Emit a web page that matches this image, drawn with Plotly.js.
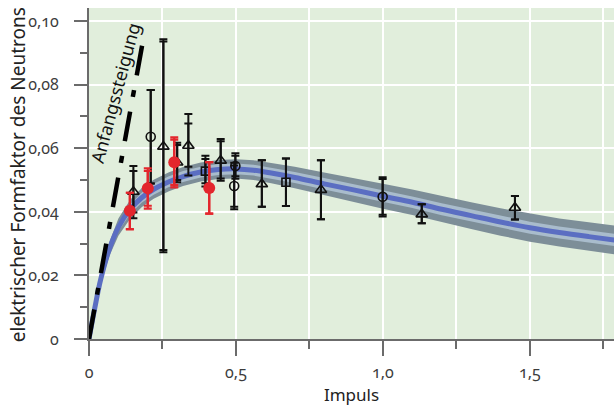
<!DOCTYPE html>
<html>
<head>
<meta charset="utf-8">
<script src="https://cdn.plot.ly/plotly-3.0.1.min.js"></script>
<style>
html,body{margin:0;padding:0;background:#fff;}
#chart{width:614px;height:406px;}
.xtick text,.ytick text{font-feature-settings:"onum" 1;}
</style>
</head>
<body>
<div id="chart"></div>
<script>
// Theory curve (centre) and its uncertainty band half-widths
const curveX = [0, 0.02, 0.04, 0.07, 0.1, 0.14, 0.18, 0.22, 0.27, 0.32, 0.38, 0.44, 0.5, 0.56, 0.62, 0.7, 0.8, 0.9, 1.0, 1.1, 1.2, 1.3, 1.4, 1.5, 1.6, 1.7, 1.8];
const curveY = [0, 0.0099, 0.0188, 0.0285, 0.0352, 0.0408, 0.0445, 0.0471, 0.0494, 0.0511, 0.0525, 0.0533, 0.0535, 0.0531, 0.0522, 0.0508, 0.0488, 0.0469, 0.0449, 0.0430, 0.0408, 0.0388, 0.0368, 0.0350, 0.0335, 0.0322, 0.0310];
const bandOuter = [0, 0.0008, 0.0015, 0.0022, 0.0027, 0.0030, 0.0030, 0.0030, 0.0030, 0.0030, 0.0030, 0.0030, 0.0030, 0.0031, 0.0032, 0.0034, 0.0036, 0.0038, 0.0039, 0.0040, 0.0041, 0.0042, 0.0043, 0.0044, 0.0044, 0.0045, 0.0045];
const bandInner = [0, 0.0004, 0.0008, 0.0011, 0.0013, 0.0015, 0.0016, 0.0017, 0.0017, 0.0017, 0.0017, 0.0017, 0.0017, 0.0017, 0.0017, 0.0017, 0.0018, 0.0018, 0.0018, 0.0018, 0.0019, 0.0019, 0.0019, 0.0019, 0.0019, 0.0019, 0.0019];

// Initial slope ("Anfangssteigung")
const slopeX = [0, 0.184];
const slopeY = [0, 0.094];

// Open triangles
const triX = [0.151, 0.253, 0.300, 0.338, 0.448, 0.588, 0.789, 1.132, 1.449];
const triY = [0.0463, 0.0605, 0.0555, 0.0608, 0.0561, 0.0487, 0.0469, 0.0392, 0.0413];
const triOutP = [0.0081, 0.0338, 0.0062, 0.0100, 0.0068, 0.0075, 0.0093, 0.0032, 0.0037];
const triOutM = [0.0083, 0.0332, 0.0062, 0.0094, 0.0063, 0.0071, 0.0092, 0.0028, 0.0037];
const triInP  = [0.0065, 0.0331, 0.0055, 0.0070, 0.0061, 0.0075, 0.0093, 0.0032, 0.0037];
const triInM  = [0.0065, 0.0325, 0.0055, 0.0066, 0.0056, 0.0071, 0.0092, 0.0028, 0.0037];

// Open circles
const cirX = [0.210, 0.498, 0.494, 0.999];
const cirY = [0.0636, 0.0544, 0.0481, 0.0447];
const cirOut = [0.0147, 0.0040, 0.0073, 0.0062];
const cirIn  = [0.0147, 0.0032, 0.0065, 0.0056];

// Open squares
const sqX = [0.396, 0.670];
const sqY = [0.0528, 0.0493];
const sqOut = [0.0048, 0.0075];
const sqIn  = [0.0038, 0.0075];

// Red filled circles
const redX = [0.139, 0.200, 0.290, 0.409];
const redY = [0.0403, 0.0474, 0.0556, 0.0475];
const redOutP = [0.0057, 0.0063, 0.0078, 0.0081];
const redOutM = [0.0058, 0.0064, 0.0079, 0.0081];
const redIn   = [0.0057, 0.0055, 0.0071, 0.0081];

// Tick labels
const xTickVals = [0, 0.5, 1.0, 1.5];
const xTickText = ['0', '0,5', '1,0', '1,5'];
const xMinorVals = [0.25, 0.75, 1.25, 1.75];
const yTickVals = [0, 0.02, 0.04, 0.06, 0.08, 0.10];
const yTickText = ['0', '0,02', '0,04', '0,06', '0,08', '0,10'];
const yMinorVals = [0.01, 0.03, 0.05, 0.07, 0.09];

const FONT = '"Noto Sans", "Open Sans", sans-serif';
const add = (a, b, s) => a.map((v, i) => v + s * b[i]);
const noMarker = {size: 1, opacity: 0};

const traces = [
  {x: curveX, y: add(curveY, bandOuter, 1), mode: 'lines', line: {width: 0}, hoverinfo: 'skip'},
  {x: curveX, y: add(curveY, bandOuter, -1), mode: 'lines', line: {width: 0}, fill: 'tonexty', fillcolor: '#7d8e98', hoverinfo: 'skip'},
  {x: curveX, y: add(curveY, bandInner, 1), mode: 'lines', line: {width: 0}, hoverinfo: 'skip'},
  {x: curveX, y: add(curveY, bandInner, -1), mode: 'lines', line: {width: 0}, fill: 'tonexty', fillcolor: '#a9bccc', hoverinfo: 'skip'},
  {x: curveX, y: curveY, mode: 'lines', line: {color: '#5b6ec2', width: 5, shape: 'spline'}},
  {x: slopeX, y: slopeY, mode: 'lines', line: {color: '#000', width: 4.5, dash: '30px,15px,7px,15px'}},
  // inner (second) error caps
  {x: triX, y: triY, mode: 'markers', marker: noMarker,
   error_y: {type: 'data', symmetric: false, array: triInP, arrayminus: triInM, color: '#111', thickness: 2, width: 4}},
  {x: cirX, y: cirY, mode: 'markers', marker: noMarker,
   error_y: {type: 'data', array: cirIn, color: '#111', thickness: 2, width: 4}},
  {x: sqX, y: sqY, mode: 'markers', marker: noMarker,
   error_y: {type: 'data', array: sqIn, color: '#111', thickness: 2, width: 4}},
  // outer error + markers
  {x: triX, y: triY, mode: 'markers',
   marker: {symbol: 'triangle-up-open', size: 10, color: '#111', line: {width: 1.6, color: '#111'}},
   error_y: {type: 'data', symmetric: false, array: triOutP, arrayminus: triOutM, color: '#111', thickness: 2, width: 4}},
  {x: cirX, y: cirY, mode: 'markers',
   marker: {symbol: 'circle-open', size: 9, color: '#111', line: {width: 1.6, color: '#111'}},
   error_y: {type: 'data', array: cirOut, color: '#111', thickness: 2, width: 4}},
  {x: sqX, y: sqY, mode: 'markers',
   marker: {symbol: 'square-open', size: 8, color: '#111', line: {width: 1.6, color: '#111'}},
   error_y: {type: 'data', array: sqOut, color: '#111', thickness: 2, width: 4}},
  {x: redX, y: redY, mode: 'markers', marker: noMarker,
   error_y: {type: 'data', array: redIn, color: '#e3262d', thickness: 2.2, width: 4}},
  {x: redX, y: redY, mode: 'markers',
   marker: {symbol: 'circle', size: 12, color: '#e3262d'},
   error_y: {type: 'data', symmetric: false, array: redOutP, arrayminus: redOutM, color: '#e3262d', thickness: 2.2, width: 4}}
];

const layout = {
  width: 614, height: 406,
  margin: {l: 89, r: 0, t: 8, b: 67},
  paper_bgcolor: '#ffffff',
  plot_bgcolor: '#e1eedc',
  showlegend: false,
  font: {family: FONT, color: '#333', size: 16},
  xaxis: {
    range: [0, 1.786], showline: true, linecolor: '#6b6b6b', linewidth: 2,
    zeroline: false, showgrid: true, gridcolor: '#ffffff', gridwidth: 2,
    tickmode: 'array', tickvals: xTickVals, ticktext: xTickText,
    ticks: 'outside', ticklen: 15, tickwidth: 2, tickcolor: '#6b6b6b',
    ticklabelstandoff: 3,
    tickfont: {family: FONT, size: 16, color: '#3c3c3c'},
    minor: {tickvals: xMinorVals, ticks: 'outside', ticklen: 8, tickwidth: 2, tickcolor: '#6b6b6b', showgrid: true, gridcolor: '#ffffff', gridwidth: 2},
    title: {text: 'Impuls', font: {family: FONT, size: 17, color: '#222'}, standoff: 3},
    fixedrange: true
  },
  yaxis: {
    range: [0, 0.1041], showline: true, linecolor: '#6b6b6b', linewidth: 2,
    zeroline: false, showgrid: true, gridcolor: '#ffffff', gridwidth: 2,
    tickmode: 'array', tickvals: yTickVals, ticktext: yTickText,
    ticks: 'outside', ticklen: 13, tickwidth: 2, tickcolor: '#6b6b6b',
    ticklabelstandoff: 12,
    tickfont: {family: FONT, size: 16, color: '#3c3c3c'},
    minor: {tickvals: yMinorVals, ticks: 'outside', ticklen: 7, tickwidth: 2, tickcolor: '#6b6b6b', showgrid: false},
    fixedrange: true
  },
  annotations: [
    {
      x: 0.0884, y: 0.0774, xref: 'x', yref: 'y', text: 'Anfangssteigung',
      showarrow: false, textangle: -75,
      font: {family: FONT, size: 18, color: '#111'}
    },
    {
      x: -0.134, y: 0.497, xref: 'paper', yref: 'paper',
      text: 'elektrischer Formfaktor des Neutrons',
      showarrow: false, textangle: -90, xanchor: 'center', yanchor: 'middle',
      font: {family: FONT, size: 19, color: '#222'}
    }
  ]
};

Plotly.newPlot('chart', traces, layout, {displayModeBar: false, staticPlot: true});
</script>
</body>
</html>
